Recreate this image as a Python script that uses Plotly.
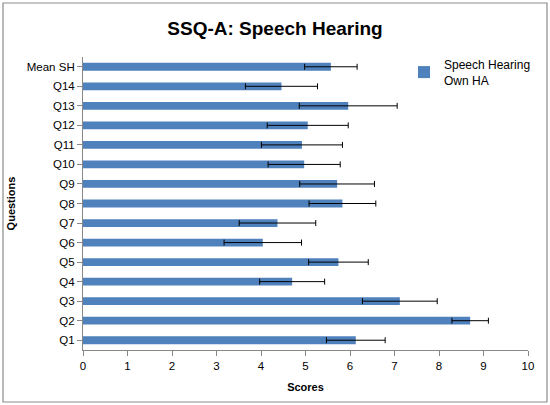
import plotly.graph_objects as go

categories = ["Q1", "Q2", "Q3", "Q4", "Q5", "Q6", "Q7", "Q8", "Q9", "Q10", "Q11", "Q12", "Q13", "Q14", "Mean SH"]
scores = [6.13, 8.70, 7.12, 4.70, 5.74, 4.04, 4.37, 5.83, 5.71, 4.97, 4.92, 5.05, 5.96, 4.46, 5.57]
errors = [0.66, 0.41, 0.84, 0.73, 0.67, 0.87, 0.86, 0.75, 0.84, 0.81, 0.91, 0.91, 1.10, 0.81, 0.59]
x_ticks = list(range(0, 11))

FONT = "Liberation Sans"

fig = go.Figure()
fig.add_trace(go.Bar(
    y=categories, x=scores, orientation="h",
    name="Speech Hearing<br>Own HA",
    marker=dict(color="#4F81BD", line=dict(width=0)),
    width=0.4,
    error_x=dict(type="data", array=errors, visible=True, color="black", thickness=1, width=3),
))

W, H = 550, 405
L, R, T, B = 83, 22, 57, 55
pw, ph = W - L - R, H - T - B

def px(x):
    return (x - L) / pw

def py(y):
    return (H - B - y) / ph

fig.update_layout(
    width=W, height=H,
    margin=dict(l=L, r=R, t=T, b=B, autoexpand=False),
    paper_bgcolor="white", plot_bgcolor="white",
    font=dict(family=FONT, size=11.5, color="black"),
    title=dict(text="<b>SSQ-A: Speech Hearing</b>", x=0.5, xanchor="center",
               y=1 - 28 / H, yanchor="middle", font=dict(size=19, family=FONT)),
    showlegend=True,
    legend=dict(x=px(404), y=py(50), xanchor="left", yanchor="top",
                font=dict(size=12, family=FONT), bgcolor="rgba(0,0,0,0)",
                itemwidth=30),
    bargap=0.6,
    xaxis=dict(range=[0, 10], tickvals=x_ticks, showgrid=False, zeroline=False,
               automargin=False,
               showline=True, linecolor="#888888", linewidth=1,
               ticks="outside", ticklen=5, tickcolor="#888888",
               title=dict(text="<b>Scores</b>", font=dict(size=11), standoff=12)),
    yaxis=dict(categoryorder="array", categoryarray=categories,
               showgrid=False, zeroline=False, automargin=False,
               showline=True, linecolor="#888888", linewidth=1,
               ticks="outside", ticklen=5, tickcolor="#888888",
               title=dict(text="<b>Questions</b>", font=dict(size=11), standoff=8)),
    shapes=[dict(type="rect", xref="paper", yref="paper",
                 x0=px(3), x1=px(547), y0=py(402), y1=py(3),
                 line=dict(color="#8c8c8c", width=1.2), fillcolor="rgba(0,0,0,0)",
                 layer="below")],
)

fig.write_html("out.html")
